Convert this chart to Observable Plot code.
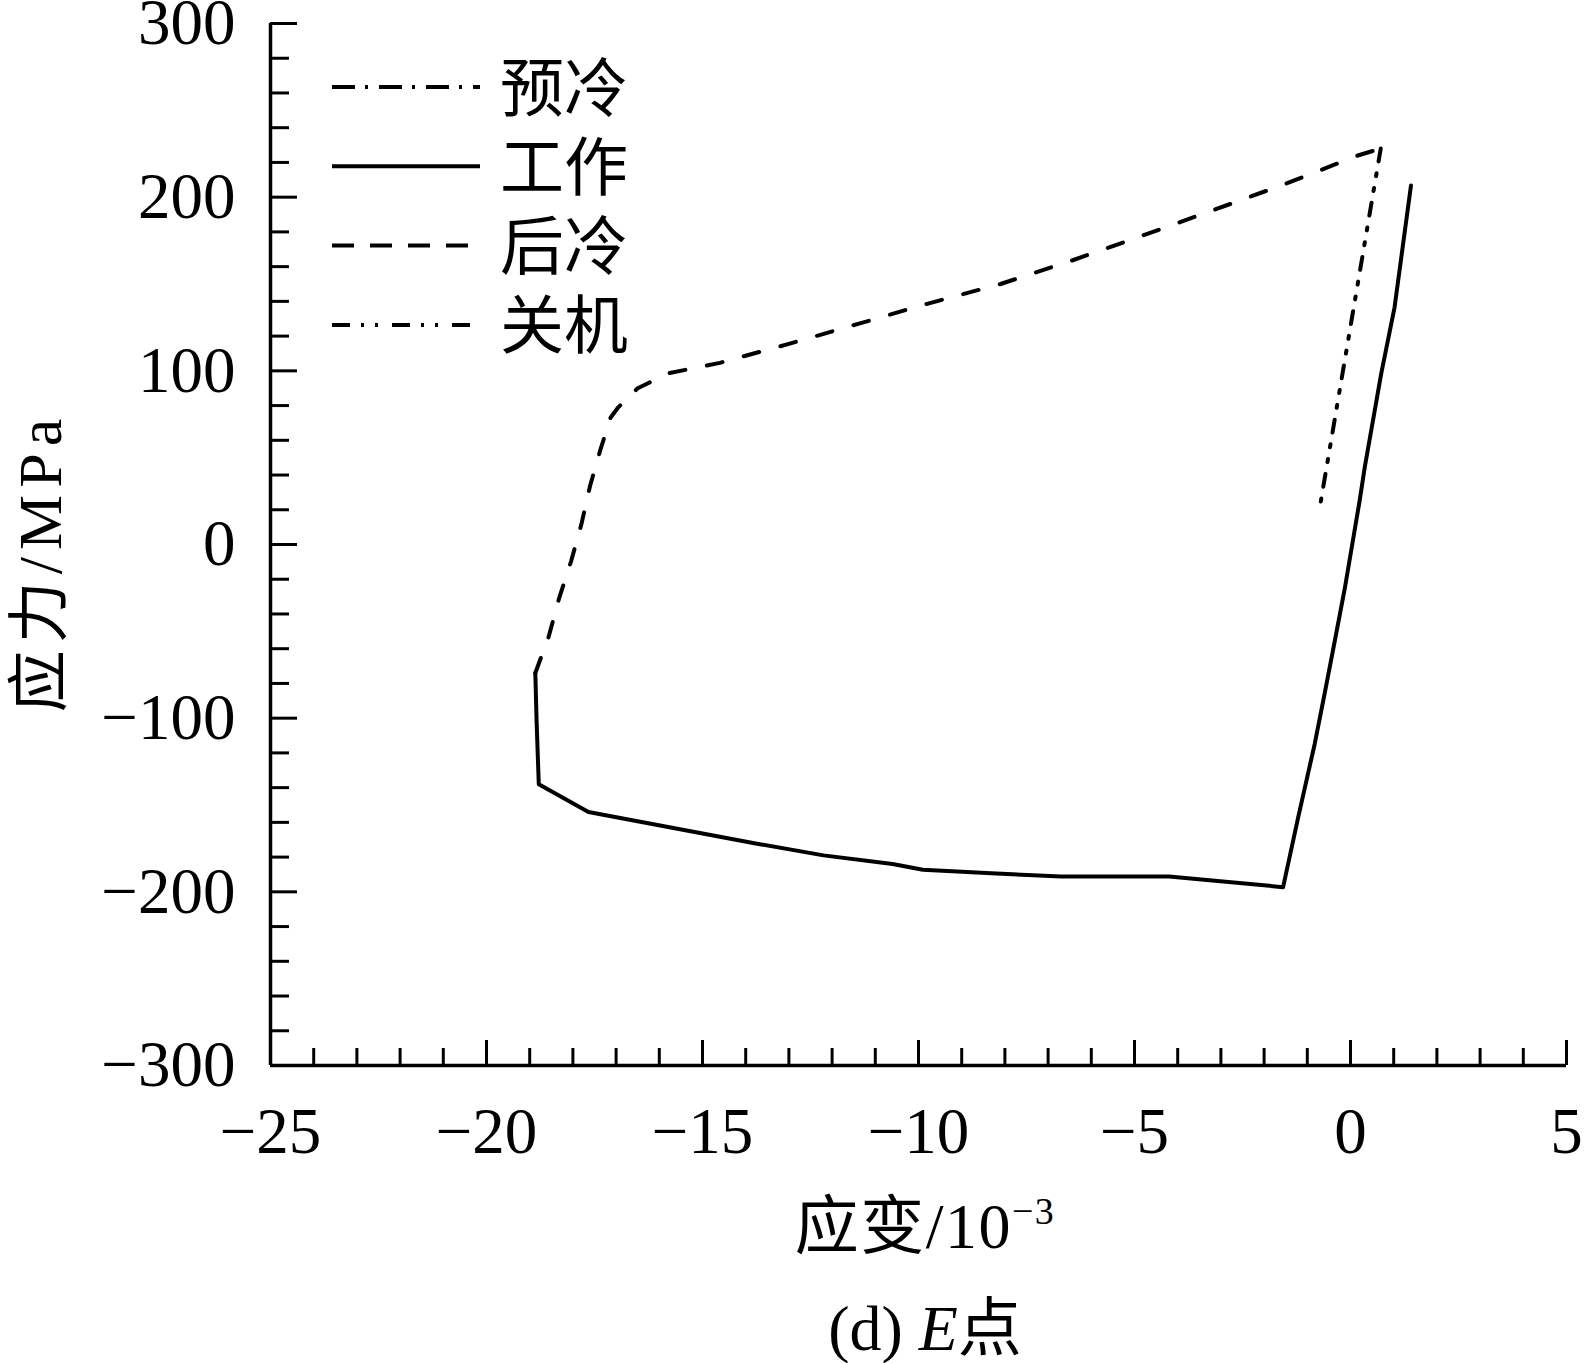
<!DOCTYPE html>
<html><head><meta charset="utf-8">
<script src="https://cdn.jsdelivr.net/npm/d3@7"></script>
<script src="https://cdn.jsdelivr.net/npm/@observablehq/plot@0.6"></script>
<style>
body{margin:0;background:#fff;}
#wrap{position:relative;width:1585px;height:1363px;background:#fff;overflow:hidden;}
#overlay{position:absolute;left:0;top:0;pointer-events:none;}
</style></head><body><div id="wrap"></div>
<script>
// ---- data ----
const xDomain = [-25, 5];
const yDomain = [-300, 300];
const xMajorTicks = [-25, -20, -15, -10, -5, 0, 5];
const yMajorTicks = [-300, -200, -100, 0, 100, 200, 300];
const xMinorTicks = d3.range(-25, 6, 1).filter(d => d % 5 !== 0);
const yMinorTicks = d3.range(-300, 301, 20).filter(d => d % 100 !== 0);

const seriesNames = ["预冷", "工作", "后冷", "关机"];

// 工作 (solid)
const gongzuoStrain = [-18.87,-18.84,-18.79,-17.64,-13.8,-12.2,-10.6,-9.9,-8.2,-6.7,-4.2,-3.2,-1.56,-1.21,-0.83,-0.6,-0.36,-0.13,0.04,0.21,0.33,0.71,1.02,1.40];
const gongzuoStress = [-74,-102,-138,-154,-172,-179,-184,-187.3,-189.5,-191.2,-191.2,-193.5,-197.3,-157,-115,-86,-55,-25,0,25,44.5,98.3,136.6,206.7];
// 后冷 (dashed)
const houlengStrain = [-18.87,-18.56,-18.32,-18.04,-17.8,-17.6,-17.37,-17.13,-16.95,-16.5,-16.25,-15.8,-14.6,-13.0,-11.4,-9.8,-8.1,-6.45,-4.8,-3.2,-1.5,0.17,0.7];
const houlengStress = [-74,-53,-31,-9.5,12,34,54,73,79,90,93,98.5,104.6,115.5,127,138.6,150,163.5,178,192.3,207.7,224,228];
// 关机 (dash-dot-dot)
const guanjiStrain = [0.7, -0.7];
const guanjiStress = [228, 23];

const toRows = (xs, ys) => xs.map((x, i) => ({strain: x, stress: ys[i]}));
const gongzuo = toRows(gongzuoStrain, gongzuoStress);
const houleng = toRows(houlengStrain, houlengStress);
const guanji = toRows(guanjiStrain, guanjiStress);

// ---- chart ----
const FONT = '"Liberation Serif","Times New Roman","Noto Sans CJK SC",serif';
const W = 1585, H = 1170, mL = 270, mR = 19, mT = 23, mB = 105;
const plotW = W - mL - mR, plotH = H - mT - mB;
const fmt = d => d < 0 ? "\u2212" + Math.abs(d) : String(d);

const chart = Plot.plot({
  width: W, height: H,
  marginLeft: mL, marginRight: mR, marginTop: mT, marginBottom: mB,
  style: {fontFamily: FONT, fontSize: "65px", color: "black", background: "white", overflow: "visible"},
  x: {domain: xDomain, ticks: xMajorTicks, tickFormat: fmt, tickSize: 0, tickPadding: 41, label: null},
  y: {domain: yDomain, ticks: yMajorTicks, tickFormat: fmt, tickSize: 0, tickPadding: 35, label: null},
  marks: [
    Plot.tickX(xMinorTicks, {x: d => d, insetTop: plotH - 17, stroke: "black", strokeWidth: 3}),
    Plot.tickX(xMajorTicks, {x: d => d, insetTop: plotH - 25, stroke: "black", strokeWidth: 3}),
    Plot.tickY(yMinorTicks, {y: d => d, insetRight: plotW - 19, stroke: "black", strokeWidth: 3}),
    Plot.tickY(yMajorTicks, {y: d => d, insetRight: plotW - 27, stroke: "black", strokeWidth: 3}),
    Plot.ruleX([xDomain[0]], {stroke: "black", strokeWidth: 3.5}),
    Plot.ruleY([yDomain[0]], {stroke: "black", strokeWidth: 3.5}),
    Plot.line(houleng, {x: "strain", y: "stress", stroke: "black", strokeWidth: 4, strokeDasharray: "16,22"}),
    Plot.line(gongzuo, {x: "strain", y: "stress", stroke: "black", strokeWidth: 4}),
    Plot.line(guanji, {x: "strain", y: "stress", stroke: "black", strokeWidth: 4, strokeDasharray: "13,12,3,12,3,12"})
  ]
});
const wrap = document.getElementById("wrap");
wrap.appendChild(chart);

// ---- overlay: legend, axis titles, caption ----
const ov = d3.select(wrap).append("svg").attr("id", "overlay")
  .attr("width", 1585).attr("height", 1363)
  .style("font-family", FONT).attr("fill", "black");

const legendDash = ["23,10,3,11", null, "22,16", "18,11,3,11,3,14"];
seriesNames.forEach((name, i) => {
  const y = 87 + i * 79.3;
  const ln = ov.append("line").attr("x1", 332).attr("x2", 480).attr("y1", y).attr("y2", y)
    .attr("stroke", "black").attr("stroke-width", 4);
  if (legendDash[i]) ln.attr("stroke-dasharray", legendDash[i]);
  ov.append("text").attr("x", 500).attr("y", y + 2).attr("dominant-baseline", "central")
    .attr("font-size", 64).text(name);
});

// y-axis title
ov.append("text").attr("transform", "translate(61,562) rotate(-90)")
  .attr("text-anchor", "middle").attr("font-size", 62).attr("letter-spacing", 7).text("应力/MPa");

// x-axis title
const xt = ov.append("text").attr("x", 925).attr("y", 1248).attr("text-anchor", "middle").attr("font-size", 64).attr("letter-spacing", 1.5);
xt.append("tspan").text("应变/10");
xt.append("tspan").attr("font-size", 38).attr("dy", -24).text("\u22123");

// caption
const cap = ov.append("text").attr("x", 925).attr("y", 1350).attr("text-anchor", "middle").attr("font-size", 64);
cap.append("tspan").text("(d) ");
cap.append("tspan").attr("font-style", "italic").text("E");
cap.append("tspan").text("点");
</script></body></html>
